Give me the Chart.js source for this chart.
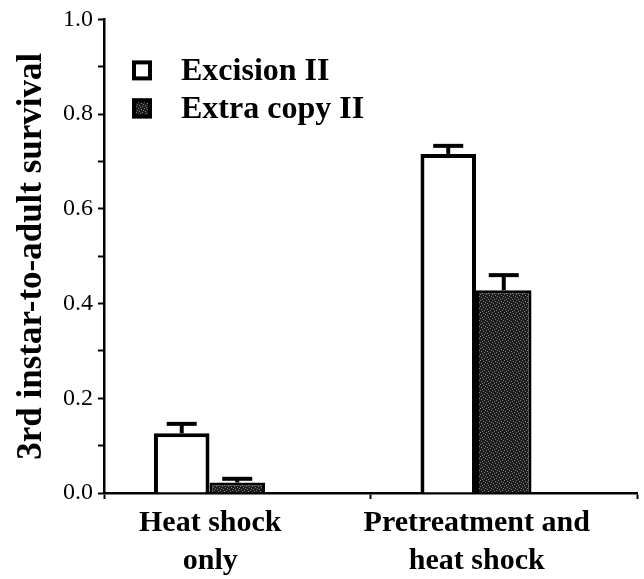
<!DOCTYPE html>
<html><head><meta charset="utf-8">
<script src="https://cdn.jsdelivr.net/npm/chart.js@4.4.1/dist/chart.umd.min.js"></script>
<style>html,body{margin:0;padding:0;background:#fff}#wrap{width:644px;height:579px}</style>
</head><body><div id="wrap"><canvas id="c" width="644" height="579"></canvas></div>
<script>
// ---- data ----
const categories = [['Heat shock', 'only'], ['Pretreatment and', 'heat shock']];
const seriesNames = ['Excision II', 'Extra copy II'];
const excisionValues = [0.126, 0.716];
const excisionErrors = [0.020, 0.017];
const extraCopyValues = [0.022, 0.428];
const extraCopyErrors = [0.008, 0.032];
const yTickLabels = ['0.0', '0.2', '0.4', '0.6', '0.8', '1.0'];
const yMin = 0, yMax = 1, yMinorStep = 0.1;

const SERIF = '"Liberation Serif", "Times New Roman", serif';

function stipple() {
  const p = document.createElement('canvas');
  p.width = 6; p.height = 6;
  const g = p.getContext('2d');
  g.fillStyle = '#1c1c1c'; g.fillRect(0, 0, 6, 6);
  g.fillStyle = '#7e7e7e';
  [[0,0],[3,1],[1,3],[4,4],[5,2],[2,5]].forEach(([x, y]) => g.fillRect(x, y, 1, 1));
  return g.createPattern(p, 'repeat');
}

const errorSets = [excisionErrors, extraCopyErrors];
const errorBars = {
  id: 'errorBars',
  afterDatasetsDraw(chart) {
    const ctx = chart.ctx, ys = chart.scales.y;
    errorSets.forEach((errs, di) => {
      const meta = chart.getDatasetMeta(di);
      meta.data.forEach((bar, i) => {
        const v = chart.data.datasets[di].data[i];
        if (v == null) return;
        const top = ys.getPixelForValue(v + errs[i]);
        ctx.save();
        ctx.strokeStyle = '#000'; ctx.lineWidth = 4; ctx.lineCap = 'butt';
        ctx.beginPath(); ctx.moveTo(bar.x, bar.y); ctx.lineTo(bar.x, top); ctx.stroke();
        ctx.beginPath(); ctx.moveTo(bar.x - 15, top); ctx.lineTo(bar.x + 15, top); ctx.stroke();
        ctx.restore();
      });
    });
  }
};

const insideLegend = {
  id: 'insideLegend',
  afterDraw(chart) {
    const ctx = chart.ctx, a = chart.chartArea;
    chart.data.datasets.forEach((ds, i) => {
      if (!ds.label) return;
      const bx = a.left + 28, by = a.top + 41 + i * 38;
      ctx.save();
      ctx.fillStyle = ds.backgroundColor; ctx.fillRect(bx, by, 20, 20);
      ctx.strokeStyle = '#000'; ctx.lineWidth = 4; ctx.strokeRect(bx + 2, by + 2, 16, 16);
      ctx.fillStyle = '#000'; ctx.font = 'bold 32px ' + SERIF; ctx.textBaseline = 'middle';
      ctx.fillText(ds.label, bx + 49, by + 11);
      ctx.restore();
    });
  }
};

function build() {
  new Chart(document.getElementById('c'), {
    type: 'bar',
    data: {
      labels: categories,
      datasets: [
        { label: seriesNames[0], data: excisionValues, backgroundColor: '#ffffff', borderColor: '#000', borderWidth: 4, borderSkipped: 'bottom' },
        { label: seriesNames[1], data: extraCopyValues, backgroundColor: stipple(), borderColor: '#000', borderWidth: 3, borderSkipped: 'bottom' },
        { label: '', data: categories.map(() => null) }
      ]
    },
    options: {
      responsive: false, animation: false, devicePixelRatio: 1,
      categoryPercentage: 0.625, barPercentage: 1.0,
      layout: { padding: { left: 0, top: 19, right: 7, bottom: 0 } },
      plugins: { legend: { display: false }, tooltip: { enabled: false } },
      scales: {
        x: {
          type: 'category', offset: true,
          afterFit(s) { s.height = 86; },
          ticks: { font: { family: SERIF, size: 30, weight: 'bold', lineHeight: 1.27 }, color: '#000', padding: 5, labelOffset: -27, maxRotation: 0, autoSkip: false },
          grid: { drawOnChartArea: false, offset: true, tickLength: 6, color: '#000', tickWidth: 2 },
          border: { color: '#000', width: 2.5 }
        },
        y: {
          min: yMin, max: yMax,
          afterFit(s) { s.width = 104; },
          ticks: {
            stepSize: yMinorStep, autoSkip: false, color: '#000', padding: 5,
            font: { family: SERIF, size: 24 },
            callback: (v) => { const t = Number(v).toFixed(1); return yTickLabels.includes(t) ? t : ''; }
          },
          grid: { drawOnChartArea: false, tickLength: 6, color: '#000', tickWidth: 2 },
          border: { color: '#000', width: 2.5 },
          title: { display: true, text: '3rd instar-to-adult survival', color: '#000', font: { family: SERIF, size: 35, weight: 'bold' }, padding: { top: 11, bottom: 0 } }
        }
      }
    },
    plugins: [errorBars, insideLegend]
  });
}
build();
</script></body></html>
